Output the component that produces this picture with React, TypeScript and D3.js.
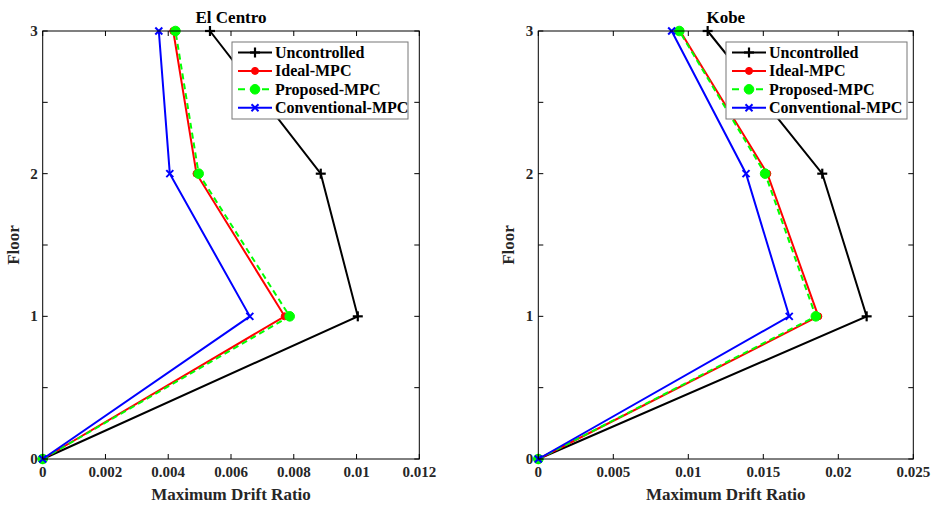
import React from "react";
import { scaleLinear, line } from "d3";

const floors = [0, 1, 2, 3];
const seriesNames = ["Uncontrolled", "Ideal-MPC", "Proposed-MPC", "Conventional-MPC"];

// El Centro drift ratios per floor
const elCentroUncontrolled = [0, 0.01004, 0.00886, 0.00533];
const elCentroIdeal = [0, 0.00771, 0.0049, 0.00416];
const elCentroProposed = [0, 0.00787, 0.00497, 0.00423];
const elCentroConventional = [0, 0.0066, 0.00405, 0.0037];
const elCentroXTicks = [0, 0.002, 0.004, 0.006, 0.008, 0.01, 0.012];

// Kobe drift ratios per floor
const kobeUncontrolled = [0, 0.02189, 0.01893, 0.01129];
const kobeIdeal = [0, 0.01867, 0.01527, 0.00945];
const kobeProposed = [0, 0.0185, 0.01512, 0.0094];
const kobeConventional = [0, 0.01673, 0.01385, 0.00889];
const kobeXTicks = [0, 0.005, 0.01, 0.015, 0.02, 0.025];

const yTicks = [0, 0.5, 1, 1.5, 2, 2.5, 3];

const colors = ["#000000", "#ff0000", "#00ff00", "#0000ff"];
const font = "'Liberation Serif', 'Times New Roman', serif";

const Marker = ({ kind, x, y, color }) => {
  if (kind === 0) {
    return (
      <g stroke={color} strokeWidth={2.2}>
        <line x1={x - 5} x2={x + 5} y1={y} y2={y} />
        <line x1={x} x2={x} y1={y - 5} y2={y + 5} />
      </g>
    );
  }
  if (kind === 1) return <circle cx={x} cy={y} r={3.5} fill={color} stroke={color} strokeWidth={1} />;
  if (kind === 2) return <circle cx={x} cy={y} r={4.8} fill={color} stroke={color} strokeWidth={1} />;
  return (
    <g stroke={color} strokeWidth={2}>
      <line x1={x - 3.5} x2={x + 3.5} y1={y - 3.5} y2={y + 3.5} />
      <line x1={x - 3.5} x2={x + 3.5} y1={y + 3.5} y2={y - 3.5} />
    </g>
  );
};

const Panel = ({ left, right, title, xMax, xTicks, series, legendX, legendW }) => {
  const top = 31;
  const bottom = 459;
  const x = scaleLinear().domain([0, xMax]).range([left, right]);
  const y = scaleLinear().domain([0, 3]).range([bottom, top]);
  const path = line<number>()
    .x((d) => x(d))
    .y((_, i) => y(floors[i]));
  const fmt = (v) => String(v);

  return (
    <g fontFamily={font} fontWeight="bold">
      {series.map((s, k) => (
        <g key={k}>
          <path
            d={path(s)}
            fill="none"
            stroke={colors[k]}
            strokeWidth={2}
            strokeDasharray={k === 2 ? "6,4" : null}
          />
          {s.map((v, i) => (
            <Marker key={i} kind={k} x={x(v)} y={y(floors[i])} color={colors[k]} />
          ))}
        </g>
      ))}

      <rect x={left} y={top} width={right - left} height={bottom - top} fill="none" stroke="#000" strokeWidth={1} />
      {xTicks.map((t) => (
        <g key={t}>
          <line x1={x(t)} x2={x(t)} y1={bottom} y2={bottom - 5} stroke="#000" />
          <line x1={x(t)} x2={x(t)} y1={top} y2={top + 5} stroke="#000" />
          <text x={x(t)} y={bottom + 18} textAnchor="middle" fontSize={15} fill="#262626">
            {fmt(t)}
          </text>
        </g>
      ))}
      {yTicks.map((t) => (
        <g key={t}>
          <line x1={left} x2={left + 5} y1={y(t)} y2={y(t)} stroke="#000" />
          <line x1={right} x2={right - 5} y1={y(t)} y2={y(t)} stroke="#000" />
          {Number.isInteger(t) && (
            <text x={left - 5} y={y(t) + 5} textAnchor="end" fontSize={15} fill="#262626">
              {t}
            </text>
          )}
        </g>
      ))}

      <text x={(left + right) / 2} y={23} textAnchor="middle" fontSize={17} fill="#000">
        {title}
      </text>
      <text x={(left + right) / 2} y={500} textAnchor="middle" fontSize={17} fill="#262626">
        Maximum Drift Ratio
      </text>
      <text
        transform={`translate(${left - 24}, ${(top + bottom) / 2}) rotate(-90)`}
        textAnchor="middle"
        fontSize={17}
        fill="#262626"
      >
        Floor
      </text>

      <rect x={legendX} y={42} width={legendW} height={77} fill="#fff" stroke="#777" strokeWidth={1} />
      {seriesNames.map((name, k) => {
        const ly = 52.5 + k * 18.4;
        return (
          <g key={name}>
            <line
              x1={legendX + 6}
              x2={legendX + 40}
              y1={ly}
              y2={ly}
              stroke={colors[k]}
              strokeWidth={2}
              strokeDasharray={k === 2 ? "7,5" : null}
            />
            <Marker kind={k} x={legendX + 23} y={ly} color={colors[k]} />
            <text x={legendX + 43} y={ly + 5.5} fontSize={16} fill="#000">
              {name}
            </text>
          </g>
        );
      })}
    </g>
  );
};

const App = () => (
  <svg width={931} height={506} style={{ position: "absolute", left: 0, top: 0, background: "#fff" }}>
    <Panel
      left={42.7}
      right={419.3}
      title="El Centro"
      xMax={0.012}
      xTicks={elCentroXTicks}
      series={[elCentroUncontrolled, elCentroIdeal, elCentroProposed, elCentroConventional]}
      legendX={232}
      legendW={176}
    />
    <Panel
      left={538.3}
      right={913.3}
      title="Kobe"
      xMax={0.025}
      xTicks={kobeXTicks}
      series={[kobeUncontrolled, kobeIdeal, kobeProposed, kobeConventional]}
      legendX={726}
      legendW={181}
    />
  </svg>
);

export default App;
